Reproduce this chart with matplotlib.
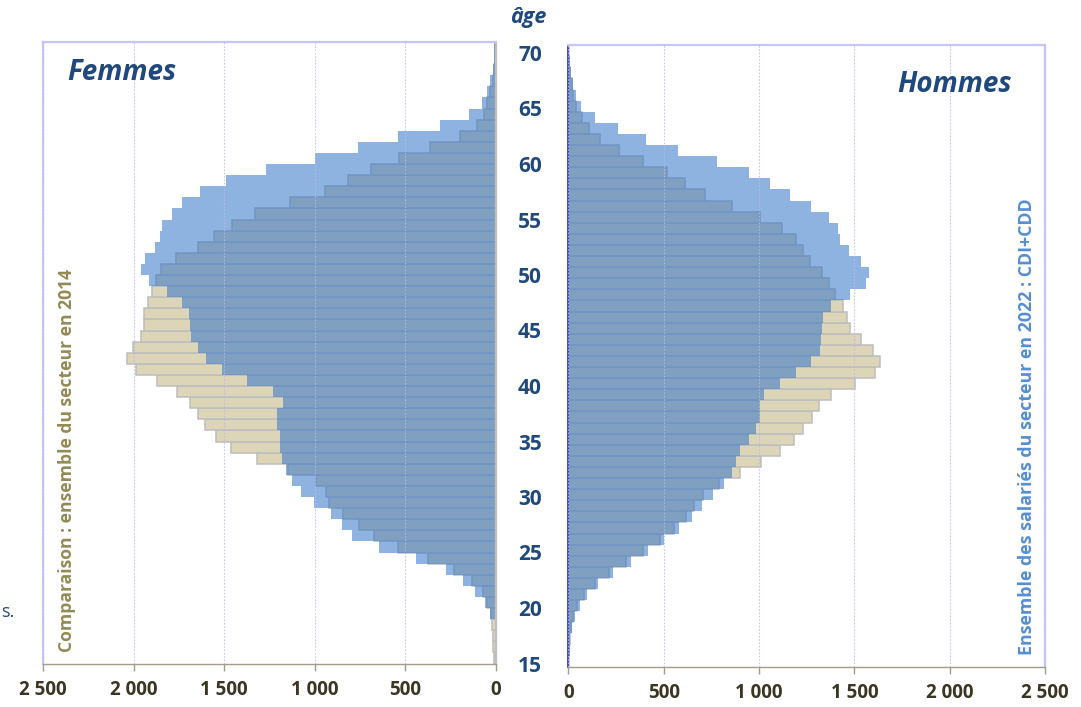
import matplotlib
matplotlib.use("Agg")
import matplotlib.pyplot as plt

plt.rcParams['font.family'] = ['Open Sans', 'DejaVu Sans']

# === 数据 (âge 15 -> 70) ===
ages = list(range(15, 71))

femmes_2014 = [9, 15, 18, 24, 30, 48, 70, 134, 232, 374,
               539, 672, 756, 843, 920, 940, 994, 1146, 1321, 1461,
               1547, 1604, 1647, 1689, 1763, 1869, 1989, 2034, 2003, 1960,
               1945, 1945, 1923, 1899, 1877, 1849, 1765, 1643, 1555, 1457,
               1328, 1135, 942, 819, 688, 537, 362, 201, 105, 68,
               48, 31, 17, 9, 6, 4]
femmes_2022 = [0, 1, 2, 6, 33, 59, 116, 180, 276, 442,
               648, 797, 848, 911, 1003, 1075, 1124, 1159, 1183, 1190,
               1192, 1211, 1207, 1178, 1233, 1376, 1512, 1599, 1646, 1682,
               1689, 1697, 1731, 1816, 1917, 1960, 1939, 1884, 1853, 1842,
               1790, 1731, 1634, 1489, 1270, 1001, 764, 541, 311, 151,
               75, 48, 31, 17, 13, 9]
hommes_2014 = [2, 6, 9, 12, 26, 44, 80, 138, 213, 302,
               393, 481, 556, 615, 661, 708, 788, 898, 1012, 1112,
               1185, 1232, 1278, 1313, 1376, 1502, 1610, 1634, 1600, 1535,
               1477, 1460, 1442, 1400, 1365, 1330, 1269, 1232, 1196, 1120,
               1007, 860, 718, 612, 519, 393, 266, 166, 110, 70,
               40, 23, 17, 10, 6, 3]
hommes_2022 = [3, 7, 10, 17, 35, 61, 96, 154, 236, 329,
               420, 500, 582, 650, 699, 759, 815, 860, 879, 900,
               949, 984, 1007, 1007, 1026, 1108, 1194, 1273, 1321, 1325,
               1328, 1337, 1379, 1475, 1561, 1578, 1536, 1470, 1426, 1412,
               1365, 1273, 1161, 1058, 947, 780, 577, 409, 259, 140,
               69, 40, 26, 14, 9, 5]

x_ticks = [0, 500, 1000, 1500, 2000, 2500]
x_labels = ['0', '500', '1 000', '1 500', '2 000', '2 500']
y_ticks = [15, 20, 25, 30, 35, 40, 45, 50, 55, 60, 65, 70]

# === 样式 ===
BEIGE = '#DDD5B7'
BEIGE_EDGE = '#BDBDBD'
BLUE = '#3375C8'
FRAME = '#C5C5F7'
AXIS = '#A39C86'
NAVY = '#1F497D'
W, H = 1081, 707

fig = plt.figure(figsize=(W / 100, H / 100), dpi=100)
ax_f = fig.add_axes([43 / W, 1 - 663.5 / H, 453 / W, 621.6 / H])
ax_h = fig.add_axes([568.3 / W, 1 - 666.7 / H, 476.7 / W, 621.6 / H])


def draw_side(ax, v2014, v2022):
    ax.barh(ages, v2014, height=1.0, align='edge', color=BEIGE,
            edgecolor=BEIGE_EDGE, linewidth=1.1, zorder=1)
    ax.barh(ages, v2022, height=1.0, align='edge', color=BLUE,
            alpha=0.55, linewidth=0, zorder=2)
    ax.set_ylim(15, 71)
    ax.set_xticks(x_ticks)
    ax.set_xticklabels(x_labels, fontsize=13.5, fontweight='bold', color='#3B3623')
    ax.tick_params(axis='x', length=5, width=1, color=AXIS, pad=7)
    ax.grid(True, axis='x', color='#B9B9EE', linestyle=(0, (1.5, 1.5)),
            linewidth=0.8, alpha=0.8, zorder=3)
    ax.set_axisbelow(False)
    for s in ['top', 'left', 'right']:
        ax.spines[s].set_color(FRAME)
        ax.spines[s].set_linewidth(1.6)
    ax.spines['bottom'].set_color(AXIS)
    ax.spines['bottom'].set_linewidth(1.0)


# ===== Femmes (gauche) =====
draw_side(ax_f, femmes_2014, femmes_2022)
ax_f.set_xlim(2500, 0)
ax_f.spines['right'].set_color('#BFBFBF')
ax_f.yaxis.tick_right()
ax_f.set_yticks(y_ticks)
ax_f.set_yticklabels([str(v) for v in y_ticks], fontsize=15,
                     fontweight='bold', color=NAVY, ha='center')
ax_f.tick_params(axis='y', length=0, pad=24.5)

# ===== Hommes (droite) =====
draw_side(ax_h, hommes_2014, hommes_2022)
ax_h.set_xlim(0, 2500)
ax_h.spines['left'].set_color('#3A3AB0')
ax_h.spines['left'].set_linewidth(1.3)
ax_h.set_yticks([])

# ===== Textes =====
fig.text(528 / W, 1 - 17 / H, 'âge', fontsize=15.5, fontweight='bold',
         fontstyle='italic', color=NAVY, ha='center', va='center')
fig.text(122 / W, 1 - 73 / H, 'Femmes', fontsize=20, fontweight='bold',
         fontstyle='italic', color=NAVY, ha='center', va='center')
fig.text(955 / W, 1 - 85 / H, 'Hommes', fontsize=20, fontweight='bold',
         fontstyle='italic', color=NAVY, ha='center', va='center')
fig.text(67 / W, 1 - 460 / H, 'Comparaison : ensemble du secteur en 2014',
         fontsize=12.6, fontweight='bold', color='#948A54', rotation=90,
         ha='center', va='center')
fig.text(1027 / W, 1 - 427 / H, 'Ensemble des salariés du secteur en 2022 : CDI+CDD',
         fontsize=12.8, fontweight='bold', color='#558ED5', rotation=90,
         ha='center', va='center')
fig.text(1 / W, 1 - 612 / H, 's.', fontsize=13, color=NAVY,
         ha='left', va='center')

fig.savefig('out.png', dpi=100)
